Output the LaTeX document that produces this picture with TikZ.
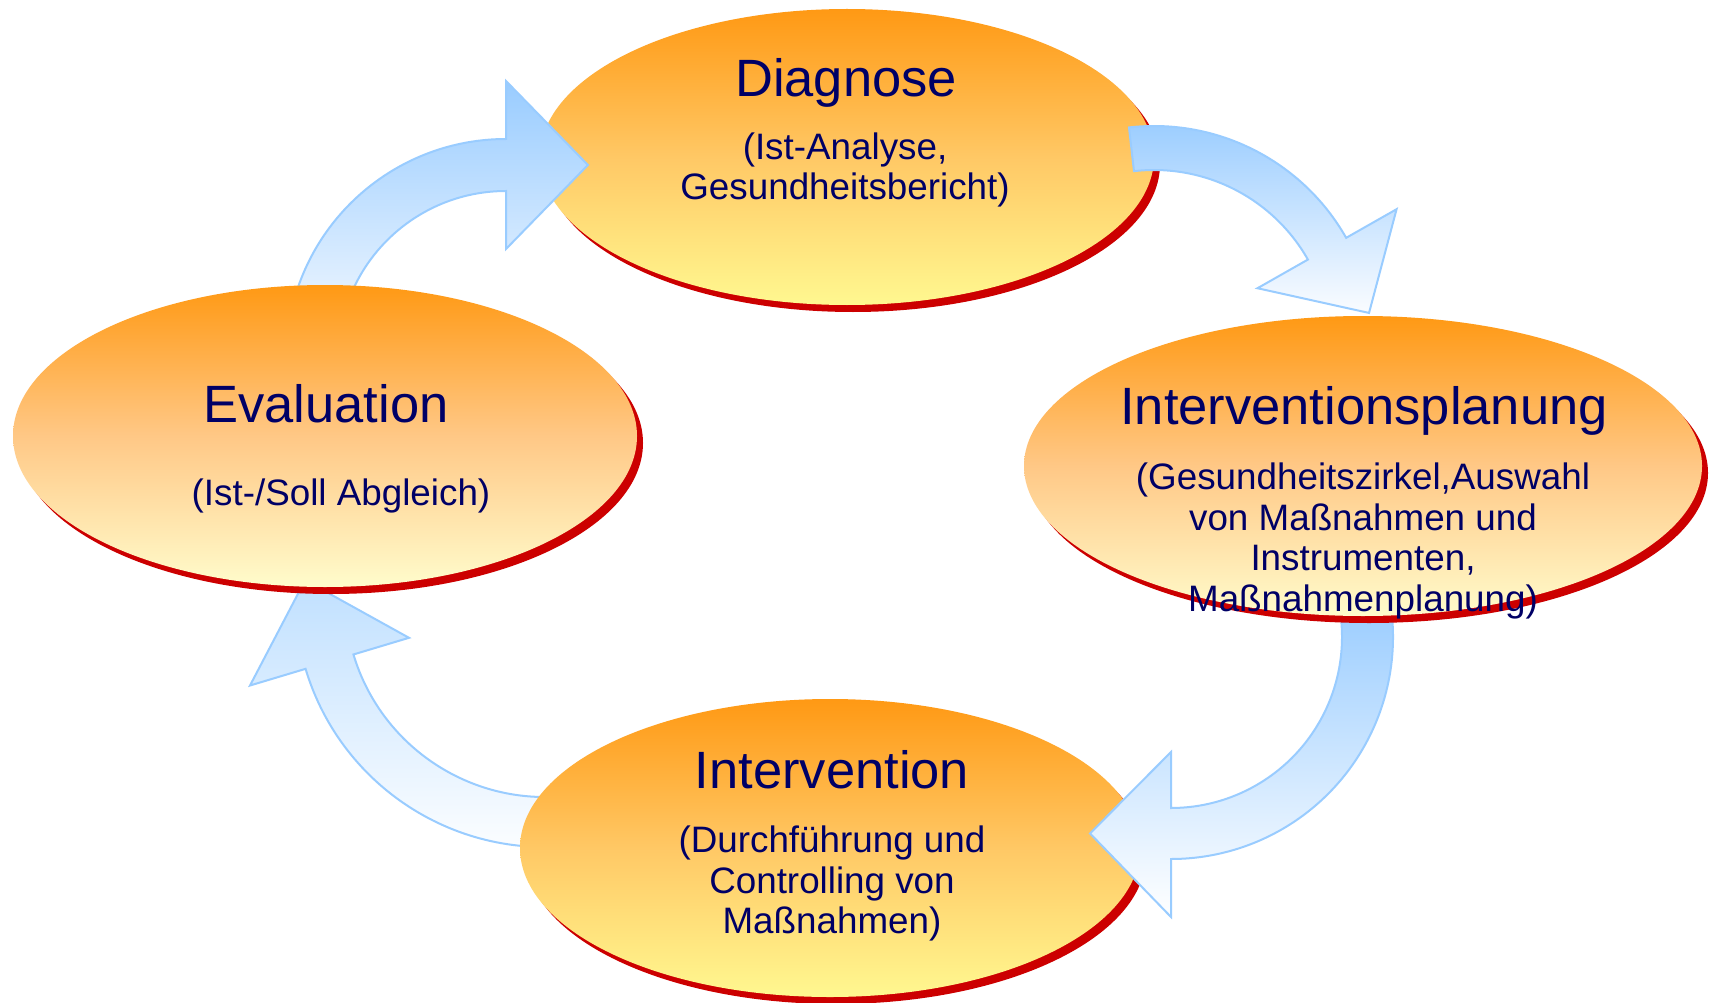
\documentclass[tikz,border=0pt]{standalone}
\usepackage{fontspec}
\setmainfont{Liberation Sans}
\usetikzlibrary{calc,shapes.geometric}
\definecolor{navy}{RGB}{0,0,102}
\definecolor{shred}{RGB}{204,0,0}
\definecolor{arrowblue}{RGB}{153,204,255}
\definecolor{orTop}{RGB}{255,153,20}
\definecolor{midA}{RGB}{255,200,101}
\definecolor{yelA}{RGB}{255,248,144}
\definecolor{midB}{RGB}{255,200,134}
\definecolor{yelB}{RGB}{255,252,204}
\tikzset{
  shadowell/.style={ellipse, fill=shred, draw=none, inner sep=0pt},
  ellA/.style={ellipse, draw=none, inner sep=0pt, shade, top color=orTop, bottom color=yelA, middle color=midA},
  ellB/.style={ellipse, draw=none, inner sep=0pt, shade, top color=orTop, bottom color=yelB, middle color=midB},
  blockarrow/.style={draw=arrowblue, line width=2pt, line join=miter, shade, top color=arrowblue, bottom color=white},
  ttl/.style={anchor=base, inner sep=0pt, text=navy, font=\fontsize{52.5}{60}\selectfont},
  sub/.style={anchor=base, inner sep=0pt, text=navy, font=\fontsize{36.8}{40}\selectfont}
}
\begin{document}
\begin{tikzpicture}[x=1pt,y=-1pt]
\useasboundingbox (0,0) rectangle (1718,1003);
\fill[white] (0,0) rectangle (1718,1003);

% Diagnose ellipse
\node[shadowell, minimum width=614pt, minimum height=296pt] (Dsh) at (853,164) {};
\node[ellA, minimum width=614pt, minimum height=296pt] (D) at (847,157) {};

% arrow 4: Intervention -> Evaluation
\coordinate (C4) at (545,597);
\path[blockarrow, top color={rgb,255:red,192;green,224;blue,255}]
  ($(C4)+(80:250)$) arc[start angle=80, end angle=163.3, radius=250]
  -- ($(C4)+(163.3:308)$) -- ($(C4)+(184:240.5)$) -- ($(C4)+(163.3:142)$)
  -- ($(C4)+(163.3:200)$) arc[start angle=163.3, end angle=80, radius=200] -- cycle;

% Intervention ellipse
\node[shadowell, minimum width=620pt, minimum height=298pt] (Ish) at (836,855) {};
\node[ellA, minimum width=620pt, minimum height=298pt] (I) at (830,848) {};

% arrow 1: Evaluation -> Diagnose
\coordinate (C1) at (506,359);
\path[blockarrow, bottom color={rgb,255:red,240;green,247;blue,255}]
  ($(C1)+(190:220)$) arc[start angle=190, end angle=270, radius=220]
  -- ($(C1)+(270:278)$) -- ($(C1)+(-67.1:210.6)$) -- ($(C1)+(270:110)$)
  -- ($(C1)+(270:168)$) arc[start angle=270, end angle=190, radius=168] -- cycle;

% arrow 2: Diagnose -> Interventionsplanung
\coordinate (C2) at (1154,347);
\path[blockarrow, bottom color={rgb,255:red,250;green,252;blue,255}]
  ($(C2)+(-96.5:221)$) arc[start angle=-96.5, end angle=-29.6, radius=221]
  -- ($(C2)+(-29.6:279)$) -- ($(C2)+(-9:217.7)$) -- ($(C2)+(-29.6:119)$)
  -- ($(C2)+(-29.6:177)$) arc[start angle=-29.6, end angle=-96.5, radius=177] -- cycle;

% arrow 3: Interventionsplanung -> Intervention
\coordinate (C3) at (1171,637);
\path[blockarrow]
  ($(C3)+(-10:222)$) arc[start angle=-10, end angle=90, radius=222]
  -- ($(C3)+(90:280)$) -- ($(C3)+(112.4:212.5)$) -- ($(C3)+(90:115)$)
  -- ($(C3)+(90:171)$) arc[start angle=90, end angle=-10, radius=171] -- cycle;

% Evaluation ellipse
\node[shadowell, minimum width=624pt, minimum height=302pt] (Esh) at (331,443) {};
\node[ellB, minimum width=624pt, minimum height=302pt] (E) at (325,436) {};

% Interventionsplanung ellipse
\node[shadowell, minimum width=678pt, minimum height=300pt] (Psh) at (1369,473) {};
\node[ellB, minimum width=678pt, minimum height=300pt] (P) at (1363,466) {};

% texts
\node[ttl] (tD) at (846,97) {Diagnose};
\node[sub] (sD1) at (845,160) {(Ist-Analyse,};
\node[sub] (sD2) at (845,200) {Gesundheitsbericht)};

\node[ttl] (tE) at (326,422) {Evaluation};
\node[sub] (sE1) at (341,505) {(Ist-/Soll Abgleich)};

\node[ttl] (tP) at (1364,424) {Interventionsplanung};
\node[sub] (sP1) at (1363,489) {(Gesundheitszirkel,Auswahl};
\node[sub] (sP2) at (1363,530) {von Maßnahmen und};
\node[sub] (sP3) at (1363,570) {Instrumenten,};
\node[sub] (sP4) at (1363,611) {Maßnahmenplanung)};

\node[ttl] (tI) at (832,788) {Intervention};
\node[sub] (sI1) at (832,852) {(Durchführung und};
\node[sub] (sI2) at (832,893) {Controlling von};
\node[sub] (sI3) at (832,933) {Maßnahmen)};
\end{tikzpicture}
\end{document}
